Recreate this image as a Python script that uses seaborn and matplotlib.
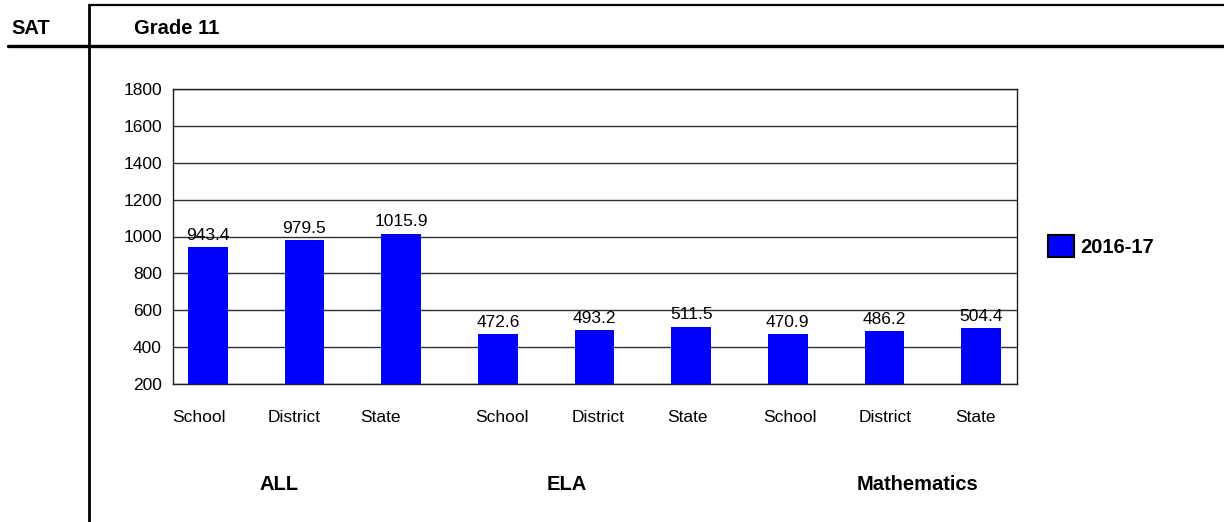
import matplotlib
matplotlib.use("Agg")
import matplotlib.pyplot as plt
import seaborn as sns
import pandas as pd
from matplotlib.lines import Line2D
from matplotlib.patches import Patch

groups = ["ALL", "ALL", "ALL", "ELA", "ELA", "ELA", "Mathematics", "Mathematics", "Mathematics"]
sub_labels = ["School", "District", "State"] * 3
values_2016_17 = [943.4, 979.5, 1015.9, 472.6, 493.2, 511.5, 470.9, 486.2, 504.4]
group_names = ["ALL", "ELA", "Mathematics"]
y_ticks = [200, 400, 600, 800, 1000, 1200, 1400, 1600, 1800]
series_name = "2016-17"

sns.set_style("white")
plt.rcParams["font.family"] = ["Liberation Sans", "DejaVu Sans"]
plt.rcParams["text.color"] = "black"
plt.rcParams["xtick.color"] = "black"
plt.rcParams["ytick.color"] = "black"

df = pd.DataFrame({"key": [g + "|" + s for g, s in zip(groups, sub_labels)],
                   "label": sub_labels, "value": values_2016_17})

fig = plt.figure(figsize=(12.24, 5.22), dpi=100)
ax = fig.add_axes([173 / 1224, 1 - 384 / 522, 844 / 1224, 295 / 522])

sns.barplot(data=df, x="key", y="value", color="#0000FF", saturation=1,
            width=0.41, ax=ax, errorbar=None, zorder=3, linewidth=0)

ax.set_ylim(200, 1800)
ax.set_xlim(-0.36, 8.37)
ax.set_yticks(y_ticks)
# category label positions (slightly offset from bar centres, as in the original layout)
label_offsets = [-0.09, -0.11, -0.21, 0.04, 0.04, -0.04, 0.02, 0.01, -0.06]
ax.set_xticks([i + o for i, o in enumerate(label_offsets)])
ax.set_xticklabels(sub_labels, fontsize=12.5)
ax.tick_params(axis="y", labelsize=12.5, length=0, pad=8, labelcolor="black")
ax.tick_params(axis="x", length=0, pad=19, labelcolor="black")
ax.set_xlabel("")
ax.set_ylabel("")
ax.yaxis.grid(True, color="#303030", linewidth=1)
ax.set_axisbelow(True)
for sp in ax.spines.values():
    sp.set_visible(True)
    sp.set_color("#202020")
    sp.set_linewidth(1)

for c in ax.containers:
    ax.bar_label(c, labels=[f"{v:.1f}" for v in c.datavalues], padding=3,
                 fontsize=12.5, color="black")

# group labels
group_x_px = [279, 567, 918]
for name, xp in zip(group_names, group_x_px):
    fig.text(xp / 1224, 1 - 484 / 522, name, ha="center", va="center",
             fontsize=14.5, fontweight="bold", color="black")

# header and frame
fig.text(11 / 1224, 1 - 28 / 522, "SAT", ha="left", va="center", fontsize=14.5,
         fontweight="bold", color="black")
fig.text(134 / 1224, 1 - 28 / 522, "Grade 11", ha="left", va="center", fontsize=14.5,
         fontweight="bold", color="black")
fig.add_artist(Line2D([8 / 1224, 1], [1 - 46 / 522] * 2, transform=fig.transFigure,
                      color="black", linewidth=2.4))
fig.add_artist(Line2D([89 / 1224] * 2, [1 - 5 / 522, 0], transform=fig.transFigure,
                      color="black", linewidth=2.0))
fig.add_artist(Line2D([89 / 1224, 1], [1 - 5 / 522] * 2, transform=fig.transFigure,
                      color="black", linewidth=1.6))

# legend
handle = Patch(facecolor="#0000FF", edgecolor="black", linewidth=1.5, label=series_name)
fig.legend(handles=[handle], loc="upper left",
           bbox_to_anchor=(1030 / 1224, 1 - 217 / 522), frameon=False,
           handlelength=1.3, handleheight=1.3, handletextpad=0.3,
           labelcolor="black",
           prop={"weight": "bold", "size": 14.5})

fig.savefig("out.png", dpi=100)
